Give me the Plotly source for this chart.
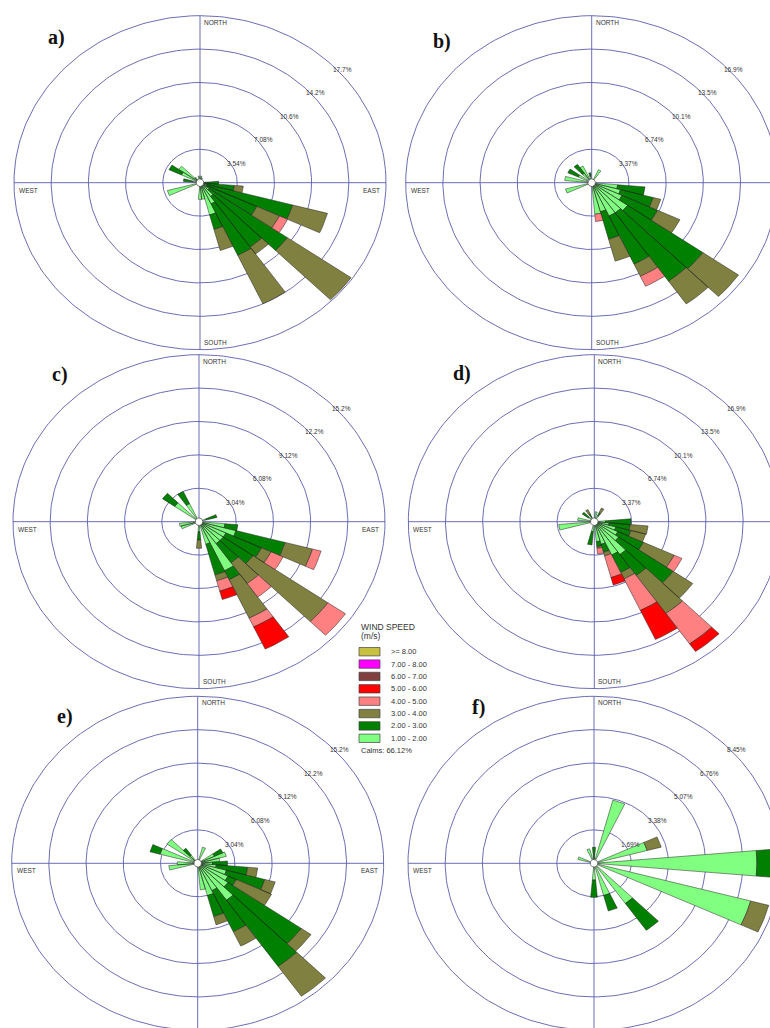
import numpy as np
import plotly.graph_objects as go

W, H = 770, 1028

# ---------------- data ----------------
SPEED_LABELS = [">= 8.00", "7.00 - 8.00", "6.00 - 7.00", "5.00 - 6.00",
                "4.00 - 5.00", "3.00 - 4.00", "2.00 - 3.00", "1.00 - 2.00"]
SPEED_COLORS = ["#c8c040", "#ff00ff", "#804040", "#ff0000",
                "#ff8080", "#808040", "#008000", "#80ff80"]
CALMS = "Calms: 66.12%"

# panel a
A_RINGS = ["3.54%", "7.08%", "10.6%", "14.2%", "17.7%"]
A_DIR = [10, 20, 90, 100, 110, 120, 130, 140, 150, 160, 170, 180, 250, 280, 300, 310, 320, 350]
A_S12 = [0.71, 0.53, 0.35, 0.53, 0.71, 0.71, 1.06, 1.77, 2.48, 3.54, 1.77, 1.77, 3.22, 0.71, 1.95, 2.48, 0.70, 0.71]
A_S23 = [0, 0, 1.42, 2.76, 8.42, 5.27, 9.10, 6.55, 6.02, 1.59, 0, 0, 0, 0.88, 1.31, 0, 0, 0]
A_S34 = [0, 0, 0, 0.85, 3.43, 2.37, 7.40, 0.89, 5.66, 2.30, 0, 0, 0, 0, 0, 0, 0, 0]
A_S45 = [0, 0, 0, 0, 0, 0.85, 0, 0, 0, 0, 0, 0, 0, 0, 0, 0, 0, 0]

# panel b
B_RINGS = ["3.37%", "6.74%", "10.1%", "13.5%", "16.9%"]
B_DIR = [30, 100, 110, 120, 130, 140, 150, 160, 170, 250, 280, 300, 320, 330, 350]
B_S12 = [1.45, 2.36, 2.70, 3.03, 3.98, 3.71, 3.71, 3.03, 3.20, 2.46, 2.46, 1.35, 1.18, 1.85, 0.67]
B_S23 = [0, 2.49, 3.07, 3.57, 8.32, 8.42, 5.36, 2.87, 0, 0, 0, 1.04, 1.08, 0, 0.34]
B_S34 = [0, 0, 0.71, 2.22, 3.94, 2.80, 1.35, 2.29, 0, 0, 0, 0, 0, 0, 0]
B_S45 = [0, 0, 0, 0, 0, 0, 1.11, 0, 0.74, 0, 0, 0, 0, 0, 0]

# panel c
C_RINGS = ["3.04%", "6.08%", "9.12%", "12.2%", "15.2%"]
C_DIR = [70, 100, 110, 120, 130, 140, 150, 160, 180, 250, 260, 310, 330]
C_S12 = [0.61, 2.13, 3.13, 2.43, 2.43, 2.43, 4.92, 2.13, 0.91, 1.52, 1.61, 2.43, 1.82]
C_S23 = [0.91, 1.06, 4.16, 3.22, 2.98, 2.13, 0.91, 2.89, 0.76, 0, 0, 1.22, 1.22]
C_S34 = [0, 0, 2.31, 0.85, 7.45, 2.31, 3.86, 0.55, 0.76, 0, 0, 0, 0]
C_S45 = [0, 0, 0.73, 1.09, 1.76, 1.49, 0.88, 0.97, 0, 0, 0, 0, 0]
C_S56 = [0, 0, 0, 0, 0, 0, 2.22, 0.79, 0, 0, 0, 0, 0]

# panel d
D_RINGS = ["3.37%", "6.74%", "10.1%", "13.5%", "16.9%"]
D_DIR = [10, 30, 90, 100, 110, 120, 130, 140, 150, 160, 170, 190, 260, 280, 310, 330]
D_S12 = [1.01, 0.67, 1.01, 1.35, 2.02, 2.36, 2.70, 4.04, 3.71, 2.36, 2.02, 1.01, 3.24, 1.52, 0.67, 0.51]
D_S23 = [0, 0.34, 2.33, 1.92, 1.42, 2.56, 6.03, 2.59, 1.95, 0.84, 0.51, 1.35, 0, 0, 0.67, 0.34]
D_S34 = [0, 0.51, 0, 1.62, 1.38, 3.07, 2.16, 4.68, 0.71, 0.37, 0.17, 0, 0, 0, 0, 0.51]
D_S45 = [0, 0, 0, 0, 0, 0.78, 0, 3.74, 3.50, 2.26, 0.57, 0, 0, 0, 0, 0]
D_S56 = [0, 0, 0, 0, 0, 0, 0, 0.94, 3.24, 0.78, 0, 0, 0, 0, 0, 0]

# panel e
E_RINGS = ["3.04%", "6.08%", "9.12%", "12.2%", "15.2%"]
E_DIR = [20, 60, 70, 80, 90, 100, 110, 120, 130, 140, 150, 160, 170, 260, 270, 290, 310, 320]
E_S12 = [1.52, 1.52, 2.43, 1.82, 1.22, 1.52, 2.43, 2.74, 3.04, 4.10, 2.74, 3.04, 2.43, 2.37, 1.67, 3.19, 3.07, 0.91]
E_S23 = [0, 0.76, 0, 0, 1.22, 2.58, 3.25, 0.76, 7.30, 7.36, 4.14, 1.98, 0, 0, 0, 0.85, 0, 0.76]
E_S34 = [0, 0, 0, 0, 0, 0.82, 0.88, 3.16, 0.97, 3.31, 1.43, 0.76, 0, 0, 0, 0, 0, 0]

# panel f
F_RINGS = ["1.69%", "3.38%", "5.07%", "6.76%", "8.45%"]
F_DIR = [20, 70, 90, 110, 140, 160, 180, 290, 340, 360]
F_S12 = [3.31, 2.50, 7.40, 7.37, 2.48, 1.69, 0.85, 0.76, 0.76, 0.25]
F_S23 = [0, 0, 0.88, 0, 1.66, 0.81, 0.88, 0, 0, 0.56]
F_S34 = [0, 0.66, 0, 0.85, 0, 0, 0, 0, 0, 0]

PANELS = [
    dict(letter="a)", rings=A_RINGS, dirs=A_DIR, bins=[A_S12, A_S23, A_S34, A_S45]),
    dict(letter="b)", rings=B_RINGS, dirs=B_DIR, bins=[B_S12, B_S23, B_S34, B_S45]),
    dict(letter="c)", rings=C_RINGS, dirs=C_DIR, bins=[C_S12, C_S23, C_S34, C_S45, C_S56]),
    dict(letter="d)", rings=D_RINGS, dirs=D_DIR, bins=[D_S12, D_S23, D_S34, D_S45, D_S56]),
    dict(letter="e)", rings=E_RINGS, dirs=E_DIR, bins=[E_S12, E_S23, E_S34]),
    dict(letter="f)", rings=F_RINGS, dirs=F_DIR, bins=[F_S12, F_S23, F_S34]),
]

# ---------------- layout geometry (pixels) ----------------
CENTERS = [(200, 182.7), (591.7, 182.7), (199, 521.7), (594.3, 521.7), (197.7, 863.3), (594, 863.3)]
LETTER_POS = [(56, 38), (442, 42), (60, 374), (462, 373), (65, 716), (478, 707)]
RX, RY = 37.2, 33.4          # pixel size of one ring step
RING_COLOR = "#5c5cac"
TXT = "#333333"
SANS = "Liberation Sans"
BIN_COLORS = SPEED_COLORS[::-1]  # index 0 -> 1-2 m/s

fig = go.Figure()
annotations = []
shapes = []
layout_axes = {}


def wedge(theta, r0, r1, n=7):
    t = np.radians(np.linspace(theta - 5, theta + 5, n))
    xs = list(r1 * np.sin(t)) + list(r0 * np.sin(t[::-1]))
    ys = list(r1 * np.cos(t)) + list(r0 * np.cos(t[::-1]))
    xs.append(xs[0]); ys.append(ys[0])
    return xs, ys


for i, p in enumerate(PANELS):
    k = "" if i == 0 else str(i + 1)
    xa, ya = "x" + k, "y" + k
    cx, cy = CENTERS[i]
    step = float(p["rings"][0].rstrip("%"))
    sx, sy = RX / step, RY / step
    layout_axes["xaxis" + k] = dict(domain=[0, 1], range=[-cx / sx, (W - cx) / sx],
                                    visible=False, fixedrange=True, anchor=ya)
    layout_axes["yaxis" + k] = dict(domain=[0, 1], range=[(cy - H) / sy, cy / sy],
                                    visible=False, fixedrange=True, anchor=xa)
    rmax = 5 * step
    # rings
    t = np.linspace(0, 2 * np.pi, 241)
    rx_, ry_ = [], []
    for j in range(1, 6):
        r = j * step
        rx_ += list(r * np.sin(t)) + [None]
        ry_ += list(r * np.cos(t)) + [None]
    rx_ += [0, 0, None, -rmax, rmax]
    ry_ += [-rmax, rmax, None, 0, 0]
    fig.add_trace(go.Scatter(x=rx_, y=ry_, mode="lines", xaxis=xa, yaxis=ya,
                             line=dict(color=RING_COLOR, width=0.9),
                             hoverinfo="skip", showlegend=False))
    # bars
    cum = np.zeros(len(p["dirs"]))
    for b, vals in enumerate(p["bins"]):
        vals = np.array(vals, dtype=float)
        px_, py_ = [], []
        for d, r0, v in zip(p["dirs"], cum, vals):
            if v <= 0:
                continue
            xs, ys = wedge(d, r0, r0 + v)
            px_ += xs + [None]
            py_ += ys + [None]
        cum = cum + vals
        if px_:
            fig.add_trace(go.Scatter(x=px_, y=py_, mode="lines", fill="toself",
                                     fillcolor=BIN_COLORS[b], xaxis=xa, yaxis=ya,
                                     line=dict(color="#222222", width=0.5),
                                     hoverinfo="skip", showlegend=False))
    # calm circle
    tc = np.linspace(0, 2 * np.pi, 60)
    fig.add_trace(go.Scatter(x=list(3.8 / sx * np.sin(tc)), y=list(3.8 / sy * np.cos(tc)),
                             mode="lines", fill="toself", fillcolor="white",
                             line=dict(color="#555555", width=0.8), xaxis=xa, yaxis=ya,
                             hoverinfo="skip", showlegend=False))
    # ring labels
    for j, lab in enumerate(p["rings"]):
        r = (j + 1) * step
        annotations.append(dict(x=r * np.sin(np.pi / 4), y=r * np.cos(np.pi / 4), xref=xa, yref=ya,
                                text=lab, showarrow=False, xanchor="left", yanchor="top",
                                font=dict(family=SANS, size=6.5, color=TXT), borderpad=0))
    # compass labels
    cf = dict(family=SANS, size=6.5, color=TXT)
    annotations += [
        dict(x=0, y=rmax, xref=xa, yref=ya, text="NORTH", showarrow=False, xanchor="left",
             yanchor="top", xshift=2, yshift=-1, font=cf),
        dict(x=0, y=-rmax, xref=xa, yref=ya, text="SOUTH", showarrow=False, xanchor="left",
             yanchor="bottom", xshift=2, yshift=2, font=cf),
        dict(x=-rmax, y=0, xref=xa, yref=ya, text="WEST", showarrow=False, xanchor="left",
             yanchor="top", xshift=3, yshift=-2, font=cf),
        dict(x=rmax, y=0, xref=xa, yref=ya, text="EAST", showarrow=False, xanchor="right",
             yanchor="top", xshift=-4, yshift=-2, font=cf),
    ]
    lx, ly = LETTER_POS[i]
    annotations.append(dict(x=lx / W, y=1 - ly / H, xref="paper", yref="paper", text="<b>" + p["letter"] + "</b>",
                            showarrow=False, xanchor="center", yanchor="middle",
                            font=dict(family="Liberation Serif", size=20, color="#111111")))

# legend
LEG_X, LEG_Y0, LEG_DY = 359, 651.7, 12.37
annotations.append(dict(x=LEG_X / W, y=1 - 627 / H, xref="paper", yref="paper", text="WIND SPEED",
                        showarrow=False, xanchor="left", yanchor="middle",
                        font=dict(family=SANS, size=8.5, color=TXT)))
annotations.append(dict(x=LEG_X / W, y=1 - 636 / H, xref="paper", yref="paper", text="(m/s)",
                        showarrow=False, xanchor="left", yanchor="middle",
                        font=dict(family=SANS, size=8.5, color=TXT)))
for j, (lab, col) in enumerate(zip(SPEED_LABELS, SPEED_COLORS)):
    yc = LEG_Y0 + j * LEG_DY
    shapes.append(dict(type="rect", xref="paper", yref="paper",
                       x0=LEG_X / W, x1=(LEG_X + 21) / W, y0=1 - (yc - 4.2) / H, y1=1 - (yc + 4.2) / H,
                       fillcolor=col, line=dict(color="#444444", width=0.7)))
    annotations.append(dict(x=389 / W, y=1 - yc / H, xref="paper", yref="paper", text=lab,
                            showarrow=False, xanchor="left", yanchor="middle",
                            font=dict(family=SANS, size=7.5, color=TXT)))
annotations.append(dict(x=LEG_X / W, y=1 - 750 / H, xref="paper", yref="paper", text=CALMS,
                        showarrow=False, xanchor="left", yanchor="middle",
                        font=dict(family=SANS, size=7.5, color=TXT)))

fig.update_layout(width=W, height=H, margin=dict(l=0, r=0, t=0, b=0),
                  paper_bgcolor="white", plot_bgcolor="rgba(0,0,0,0)",
                  showlegend=False, annotations=annotations, shapes=shapes, **layout_axes)
fig.write_html("out.html", config={"displayModeBar": False},
               post_script="document.body.style.margin='0';document.body.style.overflow='hidden';")
